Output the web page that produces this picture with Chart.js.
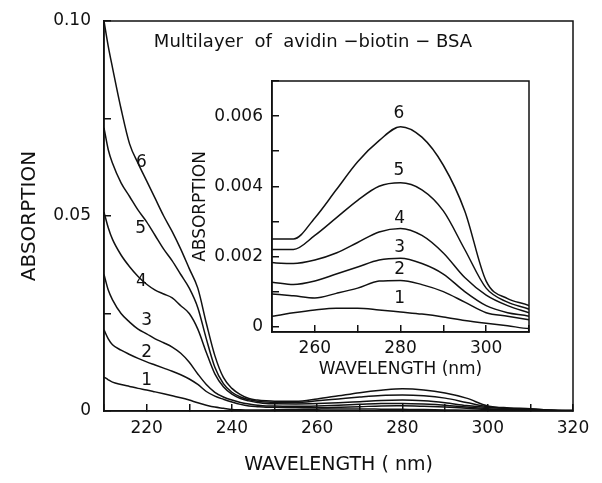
<!DOCTYPE html>
<html>
<head>
<meta charset="utf-8">
<script src="https://cdn.jsdelivr.net/npm/chart.js@4.4.1/dist/chart.umd.min.js"></script>
<style>
  html, body { margin: 0; padding: 0; background: #fff; }
  #wrap { position: relative; width: 602px; height: 483px; overflow: hidden; }
  #mainChart { position: absolute; left: 0; top: 0; }
  #insetChart { position: absolute; left: 180px; top: 70px; }
  #plotTitle { position: absolute; left: 104px; width: 418px; top: 31px; line-height: 20px;
               text-align: center; font-size: 18px; font-family: "DejaVu Sans"; color: #111; white-space: pre; }
</style>
</head>
<body>
<div id="wrap">
  <canvas id="mainChart" width="602" height="483"></canvas>
  <canvas id="insetChart" width="360" height="320"></canvas>
  <div id="plotTitle">Multilayer  of  avidin −biotin − BSA</div>
</div>
<script>
// wavelength (nm) and absorption of the 6 layers
const wavelength = [210, 211, 212, 214, 216, 218, 220, 222, 224, 226, 228, 230, 232, 234, 236, 238, 240, 242, 244, 246, 248,
                    250, 255, 260, 265, 270, 275, 280, 285, 290, 295, 300, 305, 310, 315, 320];
const layer1 = [0.0087, 0.008, 0.0074, 0.0068, 0.0063, 0.0058, 0.0054, 0.0049, 0.0044, 0.0039, 0.0034, 0.0028, 0.0021, 0.0015, 0.001, 0.0007, 0.0004, 0.0003, 0.00025, 0.00025, 0.00028,
                0.0003, 0.0004, 0.00048, 0.00053, 0.00053, 0.00048, 0.00042, 0.00036, 0.00028, 0.00018, 0.0001, 0.00003, -0.00005, -0.00003, 0.0];
const layer2 = [0.0208, 0.0185, 0.017, 0.0156, 0.0145, 0.0135, 0.0126, 0.0118, 0.011, 0.0102, 0.0093, 0.0082, 0.0068, 0.005, 0.0038, 0.003, 0.0023, 0.0017, 0.0013, 0.0011, 0.00095,
                0.00093, 0.00088, 0.00082, 0.00095, 0.0011, 0.0013, 0.00132, 0.0012, 0.001, 0.0007, 0.0004, 0.0003, 0.0002, 0.0001, 0.0];
const layer3 = [0.035, 0.031, 0.0285, 0.025, 0.0228, 0.021, 0.0198, 0.0185, 0.0175, 0.0164, 0.0148, 0.0125, 0.0095, 0.0068, 0.0048, 0.0036, 0.0028, 0.0022, 0.0018, 0.0015, 0.0013,
                0.00127, 0.0012, 0.0013, 0.0015, 0.0017, 0.0019, 0.00195, 0.0018, 0.0015, 0.001, 0.0006, 0.0004, 0.0003, 0.0001, 0.0];
const layer4 = [0.051, 0.047, 0.044, 0.04, 0.037, 0.0345, 0.0325, 0.031, 0.03, 0.029, 0.027, 0.025, 0.021, 0.015, 0.0095, 0.0062, 0.0043, 0.0032, 0.0026, 0.0022, 0.0019,
                0.00183, 0.0018, 0.0019, 0.0021, 0.0024, 0.0027, 0.0028, 0.0026, 0.0021, 0.0014, 0.0009, 0.0006, 0.0004, 0.0002, 0.0001];
const layer5 = [0.0726, 0.067, 0.0635, 0.0585, 0.055, 0.0515, 0.0485, 0.045, 0.0415, 0.0385, 0.035, 0.0315, 0.0265, 0.0185, 0.0112, 0.007, 0.0048, 0.0036, 0.0029, 0.0025, 0.0023,
                0.0022, 0.0022, 0.0026, 0.0031, 0.0036, 0.004, 0.0041, 0.0039, 0.0033, 0.0022, 0.0011, 0.0007, 0.0005, 0.0002, 0.0001];
const layer6 = [0.1, 0.0935, 0.088, 0.0775, 0.0685, 0.0635, 0.059, 0.0545, 0.05, 0.046, 0.0415, 0.0365, 0.0315, 0.0225, 0.0142, 0.0086, 0.0058, 0.0042, 0.0032, 0.0028, 0.0026,
                0.0025, 0.0025, 0.0031, 0.0039, 0.0047, 0.0053, 0.0057, 0.0054, 0.0046, 0.0033, 0.0013, 0.0008, 0.0006, 0.0002, 0.0001];
const layers = [layer1, layer2, layer3, layer4, layer5, layer6];
const layerNames = ["1", "2", "3", "4", "5", "6"];

// where the curve numbers sit (data coordinates)
const mainLabelWl  = [220, 220, 220, 218.8, 218.6, 218.8];
const mainLabelAbs = [0.0079, 0.0151, 0.0233, 0.0331, 0.0469, 0.0636];
const insetLabelWl  = [279.8, 279.8, 279.8, 279.8, 279.6, 279.6];
const insetLabelAbs = [0.00079, 0.00163, 0.00225, 0.00307, 0.00445, 0.00606];

// tick labels
const mainXTickLabels = ["220", "240", "260", "280", "300", "320"];
const mainYTickLabels = ["0", "0.05", "0.10"];
const insetXTickLabels = ["260", "280", "300"];
const insetYTickLabels = ["0", "0.002", "0.004", "0.006"];

const ink = '#111';
const tickFont = { family: 'DejaVu Sans', size: 17 };

function labelFrom(list) {
    return v => {
        const hit = list.find(t => Math.abs(Number(t) - v) < 1e-7);
        return hit === undefined ? '' : hit;
    };
}

function datasets() {
    return layers.map(s => ({
        data: wavelength.map((w, i) => ({ x: w, y: s[i] })),
        borderColor: ink,
        borderWidth: 1.5,
        pointRadius: 0,
        fill: false,
        cubicInterpolationMode: 'monotone'
    }));
}

// closes the frame and writes the curve numbers
function frameAndNumbers(wl, abs) {
    return {
        id: 'frameAndNumbers',
        afterDatasetsDraw(chart) {
            const { ctx, chartArea: a, scales: { x, y } } = chart;
            ctx.save();
            ctx.strokeStyle = ink;
            ctx.lineWidth = 1.5;
            ctx.strokeRect(a.left, a.top, a.right - a.left, a.bottom - a.top);
            ctx.fillStyle = ink;
            ctx.font = '17px "DejaVu Sans"';
            ctx.textAlign = 'center';
            ctx.textBaseline = 'middle';
            layerNames.forEach((n, i) => ctx.fillText(n, x.getPixelForValue(wl[i]), y.getPixelForValue(abs[i])));
            ctx.restore();
        }
    };
}

function axis(opts) {
    return {
        type: 'linear',
        min: opts.min, max: opts.max,
        border: { color: ink, width: 1.5 },
        grid: { drawOnChartArea: false, tickLength: -7, color: ink, lineWidth: 1.5 },
        ticks: {
            stepSize: opts.step, autoSkip: false, maxRotation: 0, includeBounds: false,
            color: ink, font: tickFont, padding: opts.pad, callback: labelFrom(opts.labels)
        },
        title: { display: true, text: opts.title, color: ink, font: { family: 'DejaVu Sans', size: opts.titleSize, lineHeight: 1.2 }, padding: opts.titlePad },
        afterBuildTicks: s => { s.ticks = s.ticks.filter(t => t.value >= s.min - 1e-9 && t.value <= s.max + 1e-9); },
        afterFit: s => {
            opts.fit(s);
            s.paddingTop = 0; s.paddingBottom = 0; s.paddingLeft = 0; s.paddingRight = 0;
        }
    };
}

new Chart(document.getElementById('mainChart'), {
    type: 'line',
    data: { datasets: datasets() },
    options: {
        responsive: false, animation: false, devicePixelRatio: 1,
        layout: { padding: { left: 0, top: 21, right: 29, bottom: 0 } },
        plugins: { legend: { display: false }, tooltip: { enabled: false } },
        scales: {
            x: axis({ min: 210, max: 320, step: 10, labels: mainXTickLabels, pad: 14, title: 'WAVELENGTH ( nm)', titleSize: 19,
                      titlePad: { top: 0, bottom: 7 }, fit: s => { s.height = 72; } }),
            y: axis({ min: 0, max: 0.1, step: 0.025, labels: mainYTickLabels, pad: 20, title: 'ABSORPTION', titleSize: 20,
                      titlePad: { top: 18, bottom: 0 }, fit: s => { s.width = 104; } })
        }
    },
    plugins: [frameAndNumbers(mainLabelWl, mainLabelAbs)]
});

new Chart(document.getElementById('insetChart'), {
    type: 'line',
    data: { datasets: datasets() },
    options: {
        responsive: false, animation: false, devicePixelRatio: 1,
        layout: { padding: { left: 0, top: 11, right: 11, bottom: 0 } },
        plugins: { legend: { display: false }, tooltip: { enabled: false } },
        scales: {
            x: axis({ min: 250, max: 310, step: 10, labels: insetXTickLabels, pad: 13, title: 'WAVELENGTH (nm)', titleSize: 17,
                      titlePad: { top: 0, bottom: 10 }, fit: s => { s.height = 58; } }),
            y: axis({ min: -0.00015, max: 0.007, step: 0.001, labels: insetYTickLabels, pad: 16, title: 'ABSORPTION', titleSize: 17,
                      titlePad: { top: 10, bottom: 0 }, fit: s => { s.width = 92; } })
        }
    },
    plugins: [frameAndNumbers(insetLabelWl, insetLabelAbs)]
});
</script>
</body>
</html>
